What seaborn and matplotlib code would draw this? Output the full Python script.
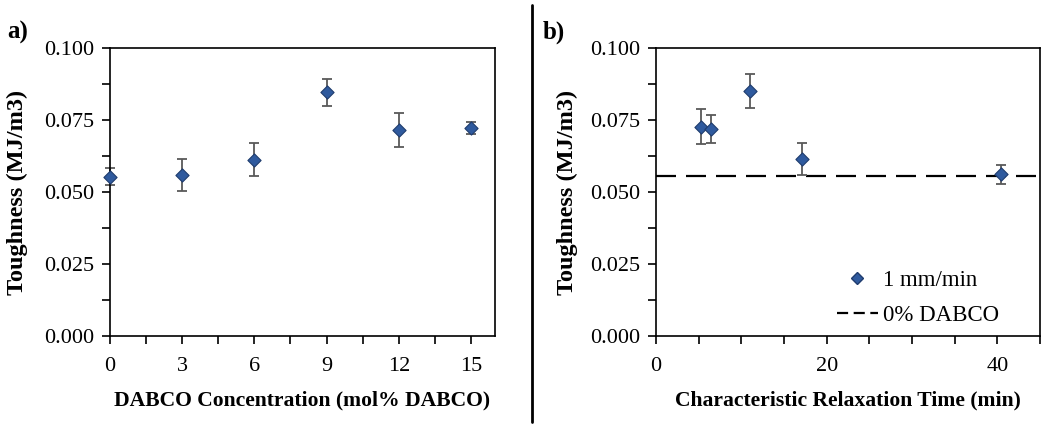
import numpy as np
import pandas as pd
import matplotlib
matplotlib.use('Agg')
import matplotlib.pyplot as plt
from matplotlib.lines import Line2D
from matplotlib.ticker import MultipleLocator, FormatStrFormatter
import seaborn as sns

sns.set_style('white')
plt.rcParams['font.family'] = ['Liberation Serif', 'DejaVu Serif']
plt.rcParams.update({'text.color': 'black', 'axes.labelcolor': 'black',
                     'xtick.color': 'black', 'ytick.color': 'black'})

# panel a) toughness vs DABCO content
dabco = [0, 3, 6, 9, 12, 15]
tough_a = [0.0553, 0.0559, 0.0612, 0.0847, 0.0715, 0.0722]
err_a = [0.0030, 0.0056, 0.0058, 0.0047, 0.0060, 0.0021]

# panel b) toughness vs relaxation time
relax = [5.3, 6.4, 11.0, 17.1, 40.4]
tough_b = [0.0727, 0.0718, 0.0850, 0.0615, 0.0561]
err_b = [0.0060, 0.0048, 0.0060, 0.0055, 0.0033]
ref_0pct = 0.0556

blue = '#2F5A9E'
edge = '#1F3C6E'
errc = '#595959'

fig = plt.figure(figsize=(10.5, 4.3), dpi=100)
ax1 = fig.add_axes([110/1050, 94/430, 385/1050, 288/430])
ax2 = fig.add_axes([656/1050, 94/430, 384/1050, 288/430])

df_a = pd.DataFrame({'x': dabco, 'y': tough_a})
df_b = pd.DataFrame({'x': relax, 'y': tough_b})

for ax, df, err in [(ax1, df_a, err_a), (ax2, df_b, err_b)]:
    ax.errorbar(df['x'], df['y'], yerr=err, fmt='none', ecolor=errc,
                elinewidth=1.3, capsize=3.5, capthick=1.3, zorder=2, clip_on=False)
    sns.scatterplot(data=df, x='x', y='y', ax=ax, marker='D', s=45, color=blue,
                    edgecolor=edge, linewidth=0.8, zorder=3, clip_on=False,
                    legend=False)

ax2.axhline(ref_0pct, color='black', lw=1.6, ls=(0, (9, 4.5)), zorder=1)

ax1.set_xlim(0, 16)
ax1.xaxis.set_major_locator(MultipleLocator(3))
ax1.xaxis.set_minor_locator(MultipleLocator(1.5))
ax2.set_xlim(0, 45)
ax2.xaxis.set_major_locator(MultipleLocator(20))
ax2.xaxis.set_minor_locator(MultipleLocator(5))

for ax in (ax1, ax2):
    ax.set_ylim(0, 0.1)
    ax.yaxis.set_major_locator(MultipleLocator(0.025))
    ax.yaxis.set_minor_locator(MultipleLocator(0.0125))
    ax.yaxis.set_major_formatter(FormatStrFormatter('%.3f'))
    ax.tick_params(which='both', direction='out', length=6, width=1.2,
                   color='black', labelcolor='black', labelsize=16, pad=5)
    ax.tick_params(axis='y', which='both', left=True)
    ax.tick_params(axis='x', which='both', bottom=True, pad=9)
    for s in ax.spines.values():
        s.set_color('black')
        s.set_linewidth(1.2)
    ax.set_ylabel('Toughness (MJ/m3)', fontsize=17.5, fontweight='bold')

ax1.yaxis.set_label_coords(-0.212, 0.5)
ax2.yaxis.set_label_coords(-0.202, 0.5)

ax1.set_xlabel('DABCO Concentration (mol% DABCO)', fontsize=15.6, fontweight='bold')
ax2.set_xlabel('Characteristic Relaxation Time (min)', fontsize=15.6, fontweight='bold')
ax1.xaxis.set_label_coords(0.5, -0.19)
ax2.xaxis.set_label_coords(0.5, -0.19)

handles = [Line2D([], [], marker='D', ls='none', color=blue, markeredgecolor=edge,
                  markersize=6, label='1 mm/min'),
           Line2D([], [], color='black', lw=1.6, ls=(0, (5, 2.5)), label='0% DABCO')]
ax2.legend(handles=handles, loc='lower right', bbox_to_anchor=(0.946, -0.037),
           frameon=False, fontsize=16.5, handlelength=1.8, handletextpad=0.2,
           labelspacing=0.6)

fig.text(7/1050, 1 - 21/430, 'a)', fontsize=18, fontweight='bold', va='top', ha='left')
fig.text(543/1050, 1 - 21/430, 'b)', fontsize=18, fontweight='bold', va='top', ha='left')
fig.add_artist(Line2D([532/1050, 532/1050], [1 - 5/430, 1 - 422/430],
                      transform=fig.transFigure, color='black', lw=2))

fig.savefig('out.png', dpi=100)
